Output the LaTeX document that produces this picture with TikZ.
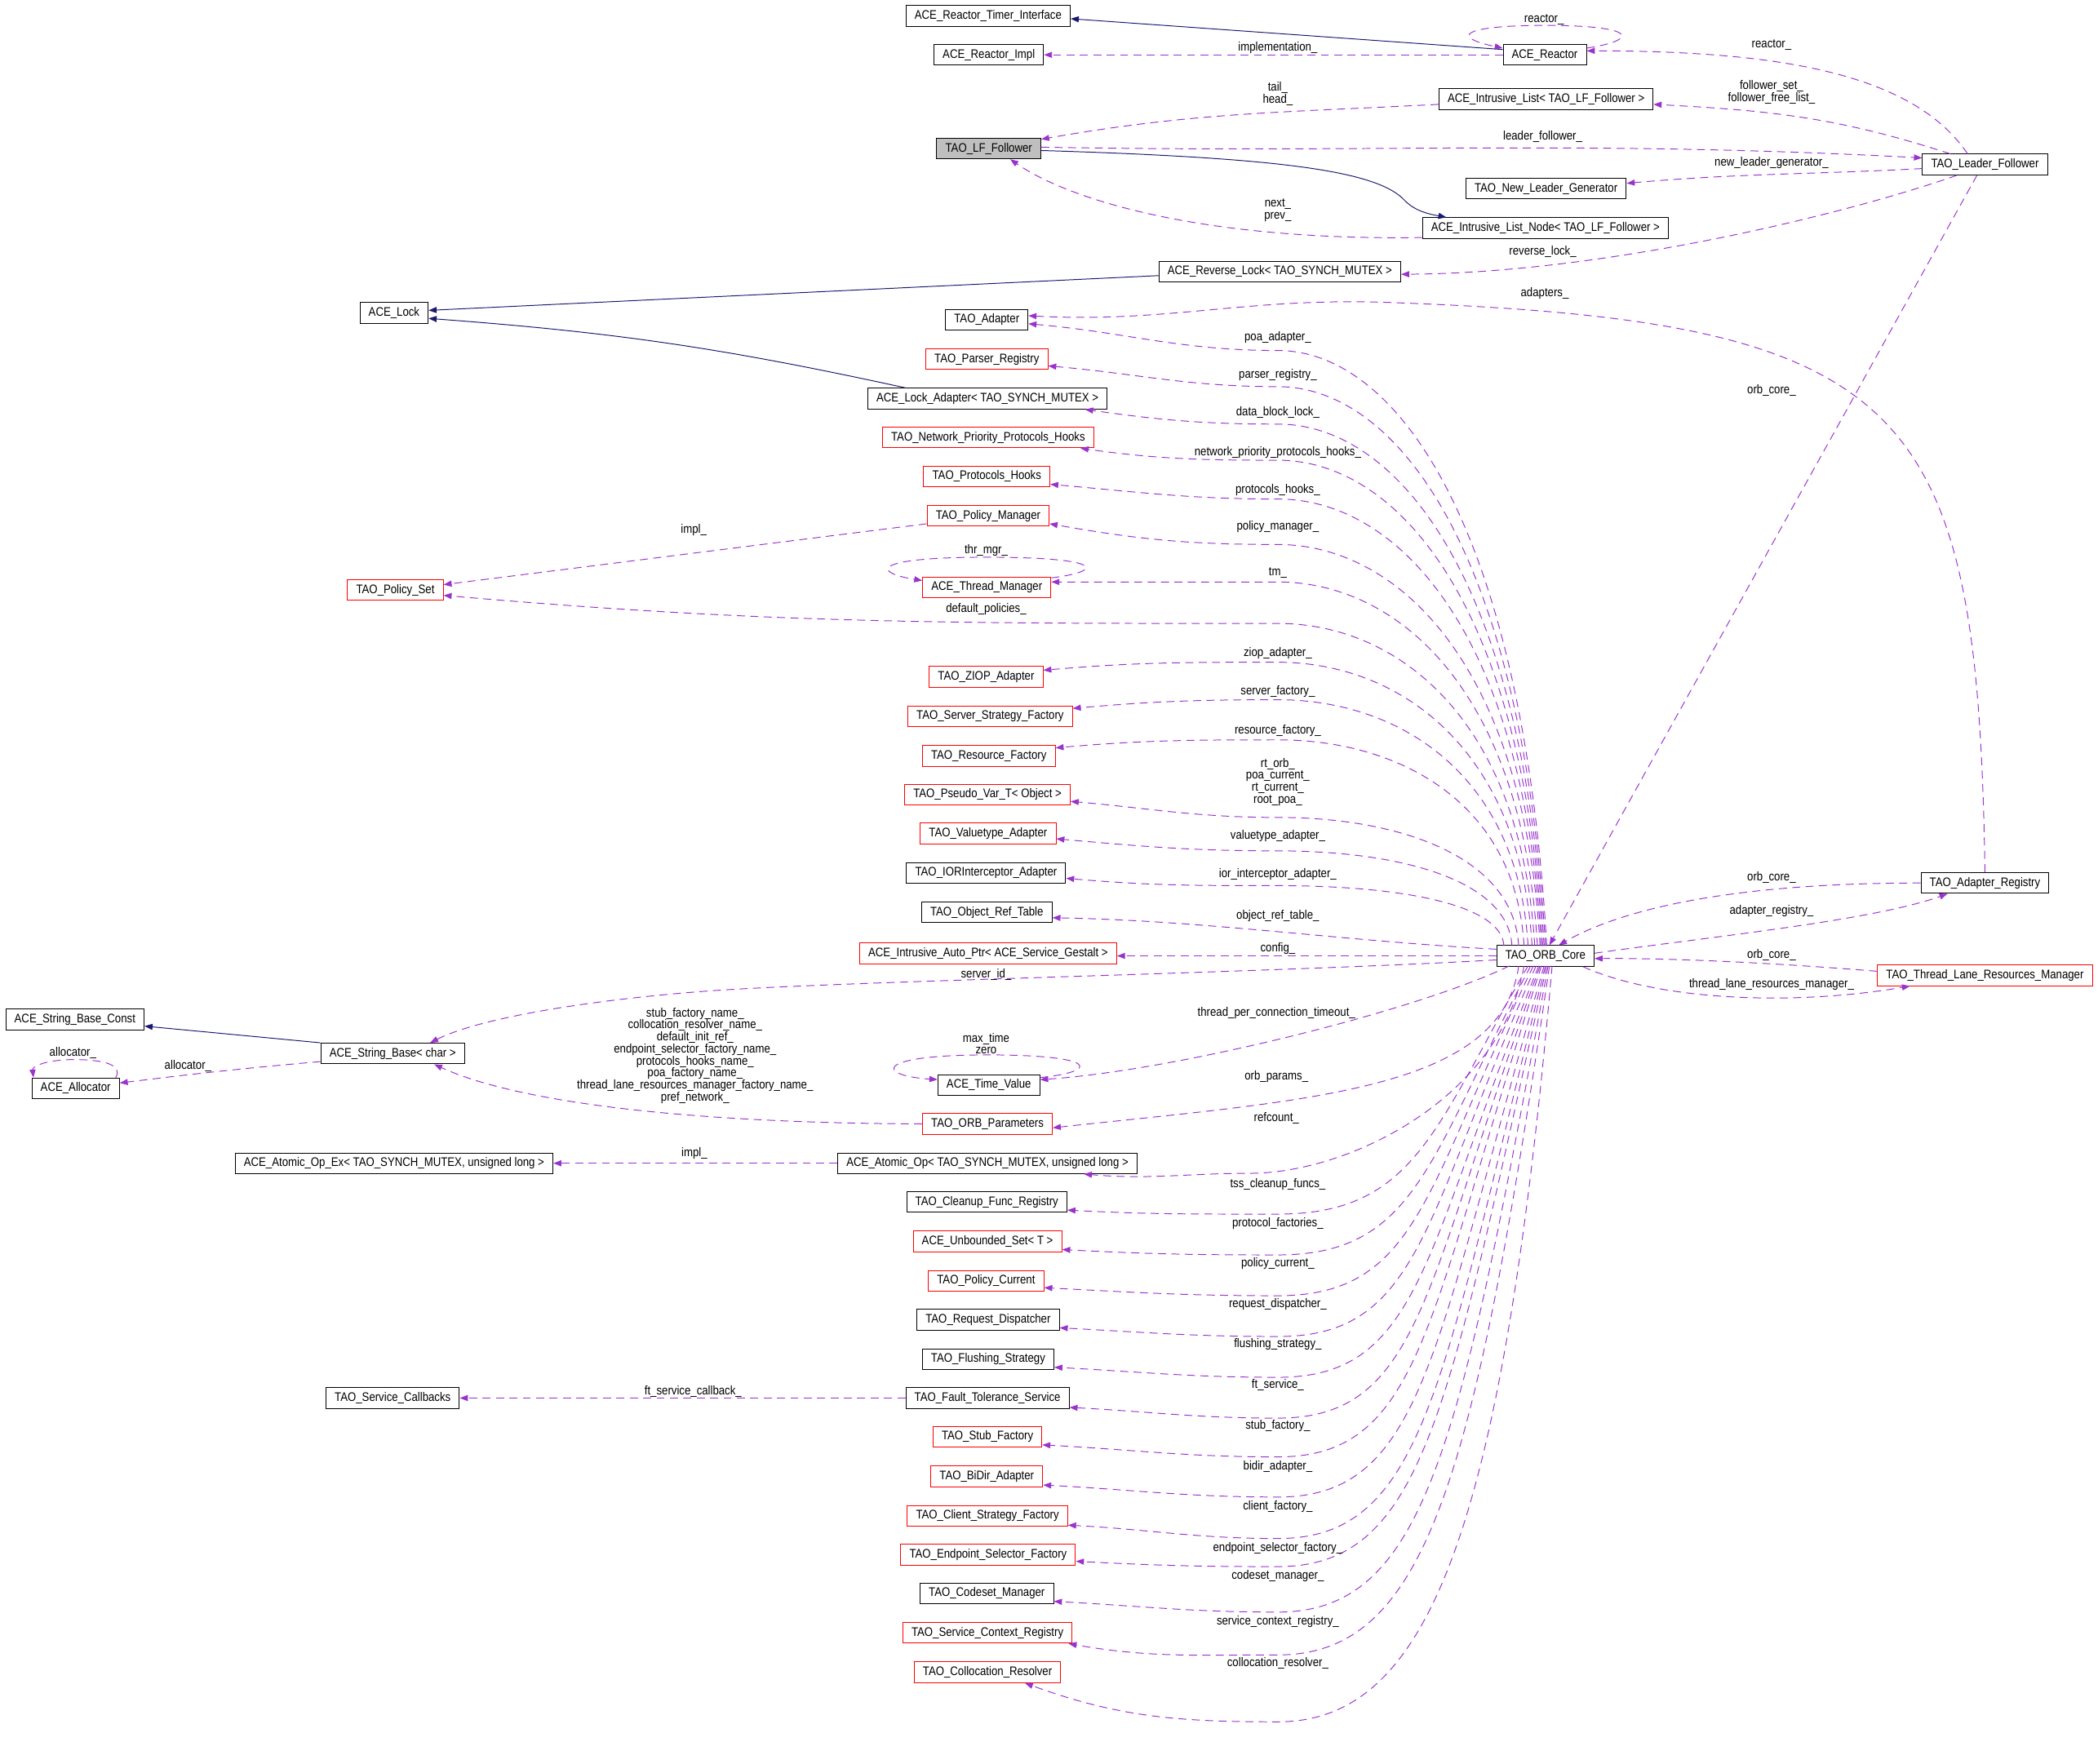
\documentclass[tikz,border=0pt]{standalone}
\usepackage{fontspec}
\setmainfont[FakeStretch=0.866]{Liberation Sans}
\usetikzlibrary{arrows.meta}

\definecolor{edgepurple}{HTML}{9A32CD}
\definecolor{edgeblue}{HTML}{191970}
\definecolor{boxgray}{HTML}{BFBFBF}

\tikzset{
  classbox/.style={draw=black, fill=white, line width=0.6pt, minimum height=15.5pt,
    inner xsep=6.5pt, inner ysep=0pt, font=\fontsize{9.3}{9}\selectfont},
  redbox/.style={classbox, draw=red},
  focusbox/.style={classbox, fill=boxgray},
  lbl/.style={inner sep=0pt, align=center, font=\fontsize{9.3}{9}\selectfont},
  member/.style={draw=edgepurple, line width=0.6pt, dash pattern=on 6pt off 4pt,
    -{Triangle[length=6pt,width=4.5pt]}},
  inherit/.style={draw=edgeblue, line width=0.6pt, -{Triangle[length=6pt,width=4.5pt]}},
}

\begin{document}
\begin{tikzpicture}[x=1pt,y=1pt]
    \useasboundingbox (0,0) rectangle (1568,-1318);

    % Classes, top part
    \node[classbox] (timerif) at (738.5,-12) {ACE\_Reactor\_Timer\_Interface};
    \node[classbox] (rimpl) at (739,-41) {ACE\_Reactor\_Impl};
    \node[classbox] (reactor) at (1154.5,-41) {ACE\_Reactor};
    \node[classbox] (ilist) at (1155.5,-74) {ACE\_Intrusive\_List< TAO\_LF\_Follower >};
    \node[focusbox] (lff) at (739,-111) {TAO\_LF\_Follower};
    \node[classbox] (lfol) at (1483.5,-123) {TAO\_Leader\_Follower};
    \node[classbox] (nlg) at (1155.5,-141) {TAO\_New\_Leader\_Generator};
    \node[classbox] (lnode) at (1155,-170.5) {ACE\_Intrusive\_List\_Node< TAO\_LF\_Follower >};
    \node[classbox] (rlock) at (956.5,-203) {ACE\_Reverse\_Lock< TAO\_SYNCH\_MUTEX >};
    \node[classbox] (acelock) at (294.5,-234) {ACE\_Lock};

    % Classes used by the ORB core
    \node[classbox] (tadapter) at (737.5,-239) {TAO\_Adapter};
    \node[redbox] (parser) at (737.5,-268.5) {TAO\_Parser\_Registry};
    \node[classbox] (lockad) at (738,-298) {ACE\_Lock\_Adapter< TAO\_SYNCH\_MUTEX >};
    \node[redbox] (nphooks) at (738.5,-327) {TAO\_Network\_Priority\_Protocols\_Hooks};
    \node[redbox] (phooks) at (737.5,-356) {TAO\_Protocols\_Hooks};
    \node[redbox] (pmgr) at (738.5,-385.5) {TAO\_Policy\_Manager};
    \node[redbox] (pset) at (295.5,-441) {TAO\_Policy\_Set};
    \node[redbox] (tmgr) at (737.5,-439) {ACE\_Thread\_Manager};
    \node[redbox] (ziop) at (737,-506) {TAO\_ZIOP\_Adapter};
    \node[redbox] (ssf) at (740,-535.5) {TAO\_Server\_Strategy\_Factory};
    \node[redbox] (rfact) at (739,-565) {TAO\_Resource\_Factory};
    \node[redbox] (pseudo) at (738,-594) {TAO\_Pseudo\_Var\_T< Object >};
    \node[redbox] (vtype) at (738.5,-623) {TAO\_Valuetype\_Adapter};
    \node[classbox] (iorint) at (737,-652.5) {TAO\_IORInterceptor\_Adapter};
    \node[classbox] (oref) at (737.5,-682) {TAO\_Object\_Ref\_Table};
    \node[redbox] (iauto) at (738.5,-712.5) {ACE\_Intrusive\_Auto\_Ptr< ACE\_Service\_Gestalt >};
    \node[classbox] (core) at (1155,-714.5) {TAO\_ORB\_Core};
    \node[classbox] (areg) at (1483.5,-660) {TAO\_Adapter\_Registry};
    \node[redbox] (tlrm) at (1483.5,-729) {TAO\_Thread\_Lane\_Resources\_Manager};
    \node[classbox] (sconst) at (56,-762) {ACE\_String\_Base\_Const};
    \node[classbox] (alloc) at (56.5,-813.5) {ACE\_Allocator};
    \node[classbox] (sbase) at (293.5,-787.5) {ACE\_String\_Base< char >};
    \node[classbox] (tvalue) at (739,-811) {ACE\_Time\_Value};
    \node[redbox] (oparams) at (738,-840) {TAO\_ORB\_Parameters};
    \node[classbox] (aopex) at (294.5,-869.5) {ACE\_Atomic\_Op\_Ex< TAO\_SYNCH\_MUTEX, unsigned long >};
    \node[classbox] (aop) at (738,-869.5) {ACE\_Atomic\_Op< TAO\_SYNCH\_MUTEX, unsigned long >};
    \node[classbox] (cleanup) at (737.5,-898.5) {TAO\_Cleanup\_Func\_Registry};
    \node[redbox] (uset) at (738,-928) {ACE\_Unbounded\_Set< T >};
    \node[redbox] (pcur) at (737,-957.5) {TAO\_Policy\_Current};
    \node[classbox] (rdisp) at (738.5,-986.5) {TAO\_Request\_Dispatcher};
    \node[classbox] (flush) at (738.5,-1016) {TAO\_Flushing\_Strategy};
    \node[classbox] (scall) at (293.5,-1045) {TAO\_Service\_Callbacks};
    \node[classbox] (ftol) at (738,-1045) {TAO\_Fault\_Tolerance\_Service};
    \node[redbox] (stubf) at (738,-1074) {TAO\_Stub\_Factory};
    \node[redbox] (bidir) at (737.5,-1103.5) {TAO\_BiDir\_Adapter};
    \node[redbox] (cfact) at (738,-1133) {TAO\_Client\_Strategy\_Factory};
    \node[redbox] (esel) at (738.5,-1162) {TAO\_Endpoint\_Selector\_Factory};
    \node[classbox] (codeset) at (737.5,-1191) {TAO\_Codeset\_Manager};
    \node[redbox] (scontext) at (738,-1220.5) {TAO\_Service\_Context\_Registry};
    \node[redbox] (colres) at (738,-1250) {TAO\_Collocation\_Resolver};

    % Inheritance
    \draw[inherit] ([yshift=4pt]reactor.west) -- ([yshift=-2pt]timerif.east);
    \draw[inherit] ([yshift=-1.5pt]lff.east) .. controls (960,-118) and (1030,-128) .. (1050,-150)
        .. controls (1058,-158) and (1068,-160) .. ([xshift=-74pt]lnode.north);
    \draw[inherit] ([yshift=-3pt]rlock.west) -- ([yshift=2pt]acelock.east);
    \draw[inherit] ([xshift=-61pt]lockad.north) to[bend right=4] ([yshift=-4pt]acelock.east);
    \draw[inherit] (sbase.north west) -- ([yshift=-5pt]sconst.east);

    % Reactor and leader/follower members
    \draw[member] (reactor.west) -- (rimpl.east);
    \draw[member] ([yshift=-3pt]reactor.north east) .. controls (1225,-30) and (1225,-19) .. (1155,-19)
        .. controls (1090,-19) and (1085,-28) .. ([yshift=-3pt]reactor.north west);
    \draw[member] ([xshift=-13pt]lfol.north) .. controls (1430,-55) and (1330,-38) .. ([yshift=3pt]reactor.east);
    \draw[member] ([yshift=-4pt]ilist.west) to[out=183,in=10] (lff.10);
    \draw[member] ([xshift=-26pt]lfol.north) to[out=162,in=-3] ([yshift=-4pt]ilist.east);
    \draw[member] ([yshift=1pt]lff.east) to[out=-1,in=177] ([yshift=5pt]lfol.west);
    \draw[member] ([yshift=-3pt]lfol.west) to[out=183,in=5] ([yshift=4pt]nlg.east);
    \draw[member] ([yshift=1pt]lnode.south west) .. controls (900,-180) and (800,-150) .. ([xshift=16pt]lff.south);
    \draw[member] ([xshift=-21pt]lfol.south) .. controls (1380,-160) and (1200,-204) .. ([yshift=-2pt]rlock.east);
    \draw[member] ([xshift=-6pt]lfol.south) -- ([xshift=3pt]core.north);

    % Adapter registry and thread lanes
    \draw[member] (areg.north) .. controls (1478,-300) and (1430,-240) .. (1036,-226)
        to[out=178,in=-3] ([yshift=3pt]tadapter.east);
    \draw[member] (areg.west) .. controls (1300,-660) and (1215,-678) .. ([xshift=10pt]core.north);
    \draw[member] ([yshift=2pt]core.east) .. controls (1280,-700) and (1400,-688) .. ([xshift=-28pt]areg.south);
    \draw[member] ([yshift=3pt]tlrm.west) .. controls (1330,-720) and (1250,-716) .. ([yshift=-2pt]core.east);
    \draw[member] ([xshift=28pt]core.south) .. controls (1240,-748) and (1340,-752) .. ([xshift=-56pt]tlrm.south);

    % ORB core members above the core
    \foreach \sx/\cy/\tgt/\anc/\dx/\dy/\ia in {
        1156/262/tadapter/east/0/-3/-5, 1155/289/parser/east/0/-5/-5,
        1154/317/lockad/south/73/0/-8, 1153/344/nphooks/south/69/0/-8,
        1152/373/phooks/east/0/-6/-5, 1151/407/pmgr/east/0/-6/-10,
        1149/435/tmgr/east/0/4/0, 1145/495/ziop/east/0/5/5,
        1142/523/ssf/east/0/6/5, 1139/553/rfact/east/0/6/5,
        1135/611/pseudo/east/0/-5/-5, 1130/636/vtype/east/0/-4/-5,
        1124/662/iorint/east/0/-4/-5}
        \draw[member] (\sx,-707) .. controls ({\sx-0.04*(707-\cy)},{-707+0.7*(707-\cy)}) and (1045,-\cy)
            .. (955,-\cy) to[out=180,in=\ia] ([xshift=\dx pt,yshift=\dy pt]\tgt.\anc);
    \draw[member] (1147,-707) .. controls (1137,-538) and (1045,-466) .. (955,-466)
        to[out=180,in=-5] ([yshift=-4pt]pset.east);
    \draw[member] ([yshift=5pt]core.west) .. controls (1000,-703) and (900,-688) .. ([yshift=-4pt]oref.east);
    \draw[member] (core.west) -- ([yshift=-2pt]iauto.east);
    \draw[member] ([yshift=-3pt]core.west) .. controls (950,-727) and (650,-733) .. (540,-740)
        .. controls (450,-746) and (360,-760) .. ([xshift=28pt]sbase.north);

    % ORB core members below the core
    \draw[member] (1128,-722) .. controls (1060,-755) and (880,-800) .. ([yshift=4pt]tvalue.east);
    \draw[member] (1135,-722) .. controls (1122,-815) and (980,-822) .. ([yshift=-3pt]oparams.east);
    \draw[member] (1139,-722) .. controls (1122,-820) and (1010,-876) .. (936,-877)
        to[out=180,in=-5] ([xshift=72pt]aop.south);
    \foreach \sx/\cy/\tgt/\anc/\dx/\dy/\ia in {
        1142/907.5/cleanup/east/0/-6/-3, 1144/938/uset/east/0/-6/-3,
        1146/968.5/pcur/east/0/-5/-3, 1148/999/rdisp/east/0/-6/-3,
        1150/1029.5/flush/east/0/-6/-3, 1151/1060/ftol/east/0/-7/-3,
        1152/1089/stubf/east/0/-6/-3, 1154/1119/bidir/east/0/-6.5/-3,
        1155/1150/cfact/east/0/-7/-3, 1156/1171/esel/east/0/-5/-3,
        1157/1205/codeset/east/0/-6/-3, 1158/1237/scontext/south east/-3/0/-10,
        1160/1287/colres/south/28/0/-20} {
        \pgfmathsetmacro\oa{-120+25*(\cy-907)/380}
        \pgfmathsetmacro\la{0.75*(\cy-722)}
        \draw[member] (\sx,-722) .. controls ({\sx+\la*cos(\oa)},{-722+\la*sin(\oa)})
            and ({955+0.55*(\sx-955)},-\cy) .. (955,-\cy)
            to[out=180,in=\ia] ([xshift=\dx pt,yshift=\dy pt]\tgt.\anc);
    }

    % Members of the other classes
    \draw[member] ([yshift=-6pt]pmgr.west) -- ([yshift=4pt]pset.east);
    \draw[member] ([yshift=-1pt]tmgr.north east) .. controls (826,-427) and (826,-416.5) .. (737,-416.5)
        .. controls (650,-416.5) and (652,-428) .. ([yshift=-3pt]tmgr.north west);
    \draw[member] ([yshift=-2.5pt]tvalue.north east) .. controls (822,-801) and (822,-788.5) .. (738,-788.5)
        .. controls (652,-788.5) and (655,-804) .. ([yshift=-4pt]tvalue.north west);
    \draw[member] ([yshift=-6pt]sbase.west) to[out=185,in=7] ([yshift=4pt]alloc.east);
    \draw[member] ([xshift=-3pt]alloc.north east) .. controls (92,-796) and (78,-792) .. (55,-792)
        .. controls (35,-792) and (24,-797) .. ([xshift=1.5pt]alloc.north west);
    \draw[member] (oparams.west) .. controls (560,-840) and (400,-830) .. ([xshift=31pt]sbase.south);
    \draw[member] (aop.west) -- (aopex.east);
    \draw[member] (ftol.west) -- (scall.east);

    % Edge labels
    \node[lbl] (lreactor) at (1154,-14.5) {reactor\_};
    \node[lbl] (limpl) at (955,-36) {implementation\_};
    \node[lbl] (lreactorlf) at (1324,-33.5) {reactor\_};
    \node[lbl] (lhead) at (955,-70) {tail\_\\head\_};
    \node[lbl] (lfollower) at (1324,-69) {follower\_set\_\\follower\_free\_list\_};
    \node[lbl] (lleader) at (1153,-102) {leader\_follower\_};
    \node[lbl] (lnewleader) at (1324,-121.5) {new\_leader\_generator\_};
    \node[lbl] (lnext) at (955,-157) {next\_\\prev\_};
    \node[lbl] (lrevlock) at (1153,-188) {reverse\_lock\_};
    \node[lbl] (ladapters) at (1154.5,-219) {adapters\_};
    \node[lbl] (lpoa) at (955,-252) {poa\_adapter\_};
    \node[lbl] (lparser) at (955,-280.5) {parser\_registry\_};
    \node[lbl] (ldblock) at (955,-308) {data\_block\_lock\_};
    \node[lbl] (lnphooks) at (955,-338) {network\_priority\_protocols\_hooks\_};
    \node[lbl] (lphooks) at (955,-366) {protocols\_hooks\_};
    \node[lbl] (lpmgr) at (955,-394) {policy\_manager\_};
    \node[lbl] (limplps) at (518.5,-396) {impl\_};
    \node[lbl] (lthrmgr) at (737,-411.5) {thr\_mgr\_};
    \node[lbl] (ltm) at (955,-428) {tm\_};
    \node[lbl] (ldefpol) at (737,-455) {default\_policies\_};
    \node[lbl] (lorbcorelf) at (1324,-292) {orb\_core\_};
    \node[lbl] (lziop) at (955,-488) {ziop\_adapter\_};
    \node[lbl] (lserver) at (955,-517) {server\_factory\_};
    \node[lbl] (lresource) at (955,-546) {resource\_factory\_};
    \node[lbl] (lpseudo) at (955,-584.5) {rt\_orb\_\\poa\_current\_\\rt\_current\_\\root\_poa\_};
    \node[lbl] (lvtype) at (955,-625) {valuetype\_adapter\_};
    \node[lbl] (lior) at (955,-653.5) {ior\_interceptor\_adapter\_};
    \node[lbl] (loref) at (955,-684.5) {object\_ref\_table\_};
    \node[lbl] (lconfig) at (955,-709) {config\_};
    \node[lbl] (lorbcoreareg) at (1324,-656) {orb\_core\_};
    \node[lbl] (lareg) at (1324,-681) {adapter\_registry\_};
    \node[lbl] (lorbcoretlrm) at (1324,-714) {orb\_core\_};
    \node[lbl] (ltlrm) at (1324,-736) {thread\_lane\_resources\_manager\_};
    \node[lbl] (lserverid) at (737,-728.5) {server\_id\_};
    \node[lbl] (ltimeout) at (954,-757) {thread\_per\_connection\_timeout\_};
    \node[lbl] (lnames) at (519.5,-789) {stub\_factory\_name\_\\collocation\_resolver\_name\_\\default\_init\_ref\_\\endpoint\_selector\_factory\_name\_\\protocols\_hooks\_name\_\\poa\_factory\_name\_\\thread\_lane\_resources\_manager\_factory\_name\_\\pref\_network\_};
    \node[lbl] (lmaxtime) at (737,-780) {max\_time\\zero};
    \node[lbl] (lallocself) at (54.5,-787) {allocator\_};
    \node[lbl] (lalloc) at (140.5,-797) {allocator\_};
    \node[lbl] (lorbparams) at (954,-805) {orb\_params\_};
    \node[lbl] (lrefcount) at (954,-836) {refcount\_};
    \node[lbl] (limplaop) at (519,-862) {impl\_};
    \node[lbl] (ltss) at (955,-885) {tss\_cleanup\_funcs\_};
    \node[lbl] (lprotfact) at (955,-914.5) {protocol\_factories\_};
    \node[lbl] (lpcur) at (955,-944.5) {policy\_current\_};
    \node[lbl] (lrdisp) at (955,-975) {request\_dispatcher\_};
    \node[lbl] (lflush) at (955,-1005) {flushing\_strategy\_};
    \node[lbl] (lft) at (955,-1035.5) {ft\_service\_};
    \node[lbl] (lftcb) at (518,-1040) {ft\_service\_callback\_};
    \node[lbl] (lstub) at (955,-1066) {stub\_factory\_};
    \node[lbl] (lbidir) at (955,-1096) {bidir\_adapter\_};
    \node[lbl] (lclient) at (955,-1126) {client\_factory\_};
    \node[lbl] (lesel) at (955,-1157) {endpoint\_selector\_factory\_};
    \node[lbl] (lcodeset) at (955,-1178) {codeset\_manager\_};
    \node[lbl] (lscontext) at (955,-1212) {service\_context\_registry\_};
    \node[lbl] (lcolres) at (955,-1243) {collocation\_resolver\_};
\end{tikzpicture}
\end{document}
